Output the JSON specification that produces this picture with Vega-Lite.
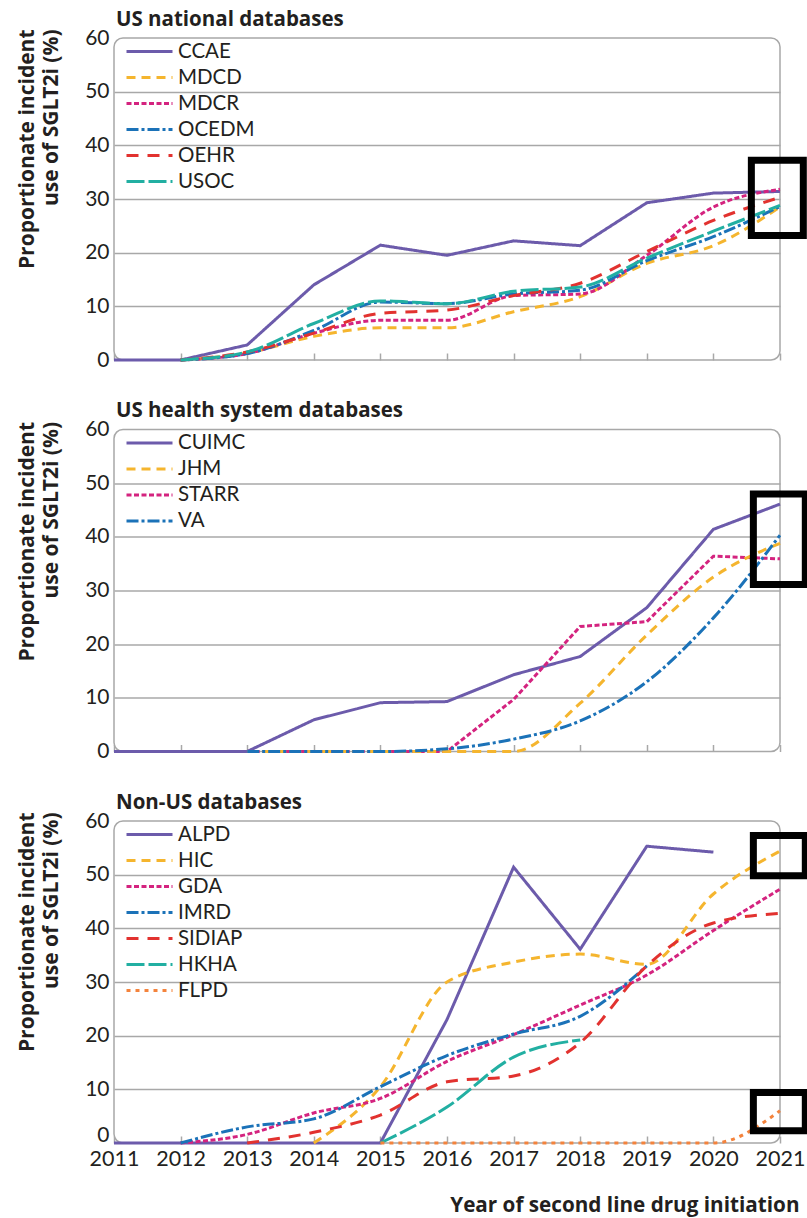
{
  "$schema": "https://vega.github.io/schema/vega-lite/v6.json",
  "autosize": {"type": "pad"},
  "padding": {"left": 15, "top": 8, "right": 0, "bottom": 2},
  "background": "white",
  "datasets": {
    "rates": [
      {"panel": "national", "series": "CCAE", "year": 2011, "value": 0},
      {"panel": "national", "series": "CCAE", "year": 2012, "value": 0},
      {"panel": "national", "series": "CCAE", "year": 2013, "value": 2.8},
      {"panel": "national", "series": "CCAE", "year": 2014, "value": 14},
      {"panel": "national", "series": "CCAE", "year": 2015, "value": 21.4},
      {"panel": "national", "series": "CCAE", "year": 2016, "value": 19.5},
      {"panel": "national", "series": "CCAE", "year": 2017, "value": 22.2},
      {"panel": "national", "series": "CCAE", "year": 2018, "value": 21.3},
      {"panel": "national", "series": "CCAE", "year": 2019, "value": 29.3},
      {"panel": "national", "series": "CCAE", "year": 2020, "value": 31.1},
      {"panel": "national", "series": "CCAE", "year": 2021, "value": 31.4},
      {"panel": "national", "series": "MDCD", "year": 2012, "value": 0},
      {"panel": "national", "series": "MDCD", "year": 2013, "value": 1.3},
      {"panel": "national", "series": "MDCD", "year": 2014, "value": 4.4},
      {"panel": "national", "series": "MDCD", "year": 2015, "value": 6},
      {"panel": "national", "series": "MDCD", "year": 2016, "value": 6},
      {"panel": "national", "series": "MDCD", "year": 2017, "value": 9},
      {"panel": "national", "series": "MDCD", "year": 2018, "value": 11.8},
      {"panel": "national", "series": "MDCD", "year": 2019, "value": 18},
      {"panel": "national", "series": "MDCD", "year": 2020, "value": 21.3},
      {"panel": "national", "series": "MDCD", "year": 2021, "value": 28.5},
      {"panel": "national", "series": "MDCR", "year": 2012, "value": 0},
      {"panel": "national", "series": "MDCR", "year": 2013, "value": 1.2},
      {"panel": "national", "series": "MDCR", "year": 2014, "value": 5},
      {"panel": "national", "series": "MDCR", "year": 2015, "value": 7.4},
      {"panel": "national", "series": "MDCR", "year": 2016, "value": 7.4},
      {"panel": "national", "series": "MDCR", "year": 2017, "value": 12},
      {"panel": "national", "series": "MDCR", "year": 2018, "value": 12.3},
      {"panel": "national", "series": "MDCR", "year": 2019, "value": 19.5},
      {"panel": "national", "series": "MDCR", "year": 2020, "value": 28.5},
      {"panel": "national", "series": "MDCR", "year": 2021, "value": 31.8},
      {"panel": "national", "series": "OCEDM", "year": 2012, "value": 0},
      {"panel": "national", "series": "OCEDM", "year": 2013, "value": 1.2},
      {"panel": "national", "series": "OCEDM", "year": 2014, "value": 5.5},
      {"panel": "national", "series": "OCEDM", "year": 2015, "value": 10.8},
      {"panel": "national", "series": "OCEDM", "year": 2016, "value": 10.5},
      {"panel": "national", "series": "OCEDM", "year": 2017, "value": 12.3},
      {"panel": "national", "series": "OCEDM", "year": 2018, "value": 13},
      {"panel": "national", "series": "OCEDM", "year": 2019, "value": 18.5},
      {"panel": "national", "series": "OCEDM", "year": 2020, "value": 23},
      {"panel": "national", "series": "OCEDM", "year": 2021, "value": 28.6},
      {"panel": "national", "series": "OEHR", "year": 2012, "value": 0},
      {"panel": "national", "series": "OEHR", "year": 2013, "value": 1.5},
      {"panel": "national", "series": "OEHR", "year": 2014, "value": 5},
      {"panel": "national", "series": "OEHR", "year": 2015, "value": 8.7},
      {"panel": "national", "series": "OEHR", "year": 2016, "value": 9.3},
      {"panel": "national", "series": "OEHR", "year": 2017, "value": 12},
      {"panel": "national", "series": "OEHR", "year": 2018, "value": 14.3},
      {"panel": "national", "series": "OEHR", "year": 2019, "value": 20.2},
      {"panel": "national", "series": "OEHR", "year": 2020, "value": 26},
      {"panel": "national", "series": "OEHR", "year": 2021, "value": 30.3},
      {"panel": "national", "series": "USOC", "year": 2012, "value": 0},
      {"panel": "national", "series": "USOC", "year": 2013, "value": 1.5},
      {"panel": "national", "series": "USOC", "year": 2014, "value": 6.8},
      {"panel": "national", "series": "USOC", "year": 2015, "value": 11},
      {"panel": "national", "series": "USOC", "year": 2016, "value": 10.5},
      {"panel": "national", "series": "USOC", "year": 2017, "value": 12.8},
      {"panel": "national", "series": "USOC", "year": 2018, "value": 13.6},
      {"panel": "national", "series": "USOC", "year": 2019, "value": 19},
      {"panel": "national", "series": "USOC", "year": 2020, "value": 24},
      {"panel": "national", "series": "USOC", "year": 2021, "value": 28.8},

      {"panel": "system", "series": "CUIMC", "year": 2011, "value": 0},
      {"panel": "system", "series": "CUIMC", "year": 2012, "value": 0},
      {"panel": "system", "series": "CUIMC", "year": 2013, "value": 0},
      {"panel": "system", "series": "CUIMC", "year": 2014, "value": 5.9},
      {"panel": "system", "series": "CUIMC", "year": 2015, "value": 9.1},
      {"panel": "system", "series": "CUIMC", "year": 2016, "value": 9.3},
      {"panel": "system", "series": "CUIMC", "year": 2017, "value": 14.3},
      {"panel": "system", "series": "CUIMC", "year": 2018, "value": 17.7},
      {"panel": "system", "series": "CUIMC", "year": 2019, "value": 26.8},
      {"panel": "system", "series": "CUIMC", "year": 2020, "value": 41.4},
      {"panel": "system", "series": "CUIMC", "year": 2021, "value": 46.1},
      {"panel": "system", "series": "JHM", "year": 2013, "value": 0},
      {"panel": "system", "series": "JHM", "year": 2014, "value": 0},
      {"panel": "system", "series": "JHM", "year": 2015, "value": 0},
      {"panel": "system", "series": "JHM", "year": 2016, "value": 0},
      {"panel": "system", "series": "JHM", "year": 2017, "value": 0},
      {"panel": "system", "series": "JHM", "year": 2018, "value": 9},
      {"panel": "system", "series": "JHM", "year": 2019, "value": 21.7},
      {"panel": "system", "series": "JHM", "year": 2020, "value": 32.5},
      {"panel": "system", "series": "JHM", "year": 2021, "value": 38.8},
      {"panel": "system", "series": "STARR", "year": 2013, "value": 0},
      {"panel": "system", "series": "STARR", "year": 2014, "value": 0},
      {"panel": "system", "series": "STARR", "year": 2015, "value": 0},
      {"panel": "system", "series": "STARR", "year": 2016, "value": 0},
      {"panel": "system", "series": "STARR", "year": 2017, "value": 9.7},
      {"panel": "system", "series": "STARR", "year": 2018, "value": 23.3},
      {"panel": "system", "series": "STARR", "year": 2019, "value": 24.2},
      {"panel": "system", "series": "STARR", "year": 2020, "value": 36.4},
      {"panel": "system", "series": "STARR", "year": 2021, "value": 35.9},
      {"panel": "system", "series": "VA", "year": 2013, "value": 0},
      {"panel": "system", "series": "VA", "year": 2014, "value": 0},
      {"panel": "system", "series": "VA", "year": 2015, "value": 0},
      {"panel": "system", "series": "VA", "year": 2016, "value": 0.5},
      {"panel": "system", "series": "VA", "year": 2017, "value": 2.3},
      {"panel": "system", "series": "VA", "year": 2018, "value": 5.7},
      {"panel": "system", "series": "VA", "year": 2019, "value": 13},
      {"panel": "system", "series": "VA", "year": 2020, "value": 24.9},
      {"panel": "system", "series": "VA", "year": 2021, "value": 40.3},

      {"panel": "nonus", "series": "ALPD", "year": 2011, "value": 0},
      {"panel": "nonus", "series": "ALPD", "year": 2012, "value": 0},
      {"panel": "nonus", "series": "ALPD", "year": 2013, "value": 0},
      {"panel": "nonus", "series": "ALPD", "year": 2014, "value": 0},
      {"panel": "nonus", "series": "ALPD", "year": 2015, "value": 0},
      {"panel": "nonus", "series": "ALPD", "year": 2016, "value": 23},
      {"panel": "nonus", "series": "ALPD", "year": 2017, "value": 51.4},
      {"panel": "nonus", "series": "ALPD", "year": 2018, "value": 36.1},
      {"panel": "nonus", "series": "ALPD", "year": 2019, "value": 55.3},
      {"panel": "nonus", "series": "ALPD", "year": 2020, "value": 54.2},
      {"panel": "nonus", "series": "HIC", "year": 2014, "value": 0},
      {"panel": "nonus", "series": "HIC", "year": 2015, "value": 10.5},
      {"panel": "nonus", "series": "HIC", "year": 2016, "value": 30},
      {"panel": "nonus", "series": "HIC", "year": 2017, "value": 33.7},
      {"panel": "nonus", "series": "HIC", "year": 2018, "value": 35.2},
      {"panel": "nonus", "series": "HIC", "year": 2019, "value": 33.3},
      {"panel": "nonus", "series": "HIC", "year": 2020, "value": 46.4},
      {"panel": "nonus", "series": "HIC", "year": 2021, "value": 54.4},
      {"panel": "nonus", "series": "GDA", "year": 2012, "value": 0},
      {"panel": "nonus", "series": "GDA", "year": 2013, "value": 1.6},
      {"panel": "nonus", "series": "GDA", "year": 2014, "value": 5.6},
      {"panel": "nonus", "series": "GDA", "year": 2015, "value": 8.3},
      {"panel": "nonus", "series": "GDA", "year": 2016, "value": 15.2},
      {"panel": "nonus", "series": "GDA", "year": 2017, "value": 20.2},
      {"panel": "nonus", "series": "GDA", "year": 2018, "value": 25.7},
      {"panel": "nonus", "series": "GDA", "year": 2019, "value": 31.3},
      {"panel": "nonus", "series": "GDA", "year": 2020, "value": 39.6},
      {"panel": "nonus", "series": "GDA", "year": 2021, "value": 47.3},
      {"panel": "nonus", "series": "IMRD", "year": 2012, "value": 0},
      {"panel": "nonus", "series": "IMRD", "year": 2013, "value": 3},
      {"panel": "nonus", "series": "IMRD", "year": 2014, "value": 4.5},
      {"panel": "nonus", "series": "IMRD", "year": 2015, "value": 10.5},
      {"panel": "nonus", "series": "IMRD", "year": 2016, "value": 16.3},
      {"panel": "nonus", "series": "IMRD", "year": 2017, "value": 20.3},
      {"panel": "nonus", "series": "IMRD", "year": 2018, "value": 23.6},
      {"panel": "nonus", "series": "IMRD", "year": 2019, "value": 33},
      {"panel": "nonus", "series": "SIDIAP", "year": 2013, "value": 0},
      {"panel": "nonus", "series": "SIDIAP", "year": 2014, "value": 2},
      {"panel": "nonus", "series": "SIDIAP", "year": 2015, "value": 5.2},
      {"panel": "nonus", "series": "SIDIAP", "year": 2016, "value": 11.4},
      {"panel": "nonus", "series": "SIDIAP", "year": 2017, "value": 12.5},
      {"panel": "nonus", "series": "SIDIAP", "year": 2018, "value": 18.7},
      {"panel": "nonus", "series": "SIDIAP", "year": 2019, "value": 33},
      {"panel": "nonus", "series": "SIDIAP", "year": 2020, "value": 41},
      {"panel": "nonus", "series": "SIDIAP", "year": 2021, "value": 42.8},
      {"panel": "nonus", "series": "HKHA", "year": 2015, "value": 0},
      {"panel": "nonus", "series": "HKHA", "year": 2016, "value": 6.7},
      {"panel": "nonus", "series": "HKHA", "year": 2017, "value": 16},
      {"panel": "nonus", "series": "HKHA", "year": 2018, "value": 19.2},
      {"panel": "nonus", "series": "FLPD", "year": 2015, "value": 0},
      {"panel": "nonus", "series": "FLPD", "year": 2016, "value": 0},
      {"panel": "nonus", "series": "FLPD", "year": 2017, "value": 0},
      {"panel": "nonus", "series": "FLPD", "year": 2018, "value": 0},
      {"panel": "nonus", "series": "FLPD", "year": 2019, "value": 0},
      {"panel": "nonus", "series": "FLPD", "year": 2020, "value": 0},
      {"panel": "nonus", "series": "FLPD", "year": 2021, "value": 6}
    ],
    "highlights": [
      {"panel": "national", "x0": 2020.57, "x1": 2021.35, "y0": 23.2, "y1": 37.2},
      {"panel": "system", "x0": 2020.6, "x1": 2021.38, "y0": 31.1, "y1": 48},
      {"panel": "nonus", "x0": 2020.6, "x1": 2021.38, "y0": 49.8, "y1": 57.3},
      {"panel": "nonus", "x0": 2020.6, "x1": 2021.38, "y0": 2.3, "y1": 9.4}
    ]
  },
  "vconcat": [
    {
      "title": {"text": "US national databases"},
      "width": 666,
      "height": 322,
      "layer": [
        {
          "data": {"name": "rates"},
          "transform": [{"filter": "datum.panel === 'national' && datum.series === 'CCAE'"}],
          "mark": {"type": "line", "strokeWidth": 3},
          "encoding": {
            "x": {"field": "year", "type": "quantitative", "scale": {"domain": [2011, 2021], "nice": false, "zero": false}, "axis": {"values": [2011, 2012, 2013, 2014, 2015, 2016, 2017, 2018, 2019, 2020, 2021], "labels": false, "title": null}},
            "y": {"field": "value", "type": "quantitative", "scale": {"domain": [0, 60], "nice": false}, "axis": {"values": [0, 10, 20, 30, 40, 50, 60], "title": ["Proportionate incident", "use of SGLT2i (%)"], "titleY": -9}},
            "color": {"field": "series", "type": "nominal", "scale": {"domain": ["CCAE", "MDCD", "MDCR", "OCEDM", "OEHR", "USOC"], "range": ["#6C5BAB", "#F5B52E", "#D4237F", "#1B72B8", "#E2322F", "#22AFA2"]}, "legend": {"orient": "none", "legendX": 24, "legendY": 2}},
            "strokeDash": {"field": "series", "type": "nominal", "scale": {"domain": ["CCAE", "MDCD", "MDCR", "OCEDM", "OEHR", "USOC"], "range": [[1, 0], [9, 6], [5, 2.5], [12, 3, 3, 3], [12, 9], [18, 4]]}, "legend": {"orient": "none", "legendX": 24, "legendY": 2}}
          }
        },
        {
          "data": {"name": "rates"},
          "transform": [{"filter": "datum.panel === 'national' && datum.series !== 'CCAE'"}],
          "mark": {"type": "line", "strokeWidth": 3, "interpolate": "monotone"},
          "encoding": {
            "x": {"field": "year", "type": "quantitative"},
            "y": {"field": "value", "type": "quantitative"},
            "color": {"field": "series", "type": "nominal"},
            "strokeDash": {"field": "series", "type": "nominal"}
          }
        },
        {
          "data": {"name": "highlights"},
          "transform": [{"filter": "datum.panel === 'national'"}],
          "mark": {"type": "rect", "filled": false, "stroke": "#000000", "strokeWidth": 7, "clip": false},
          "encoding": {
            "x": {"field": "x0", "type": "quantitative"},
            "x2": {"field": "x1"},
            "y": {"field": "y0", "type": "quantitative"},
            "y2": {"field": "y1"}
          }
        }
      ]
    },
    {
      "title": {"text": "US health system databases"},
      "width": 666,
      "height": 322,
      "layer": [
        {
          "data": {"name": "rates"},
          "transform": [{"filter": "datum.panel === 'system' && (datum.series === 'CUIMC' || datum.series === 'STARR')"}],
          "mark": {"type": "line", "strokeWidth": 3},
          "encoding": {
            "x": {"field": "year", "type": "quantitative", "scale": {"domain": [2011, 2021], "nice": false, "zero": false}, "axis": {"values": [2011, 2012, 2013, 2014, 2015, 2016, 2017, 2018, 2019, 2020, 2021], "labels": false, "title": null}},
            "y": {"field": "value", "type": "quantitative", "scale": {"domain": [0, 60], "nice": false}, "axis": {"values": [0, 10, 20, 30, 40, 50, 60], "title": ["Proportionate incident", "use of SGLT2i (%)"], "titleY": -8}},
            "color": {"field": "series", "type": "nominal", "scale": {"domain": ["CUIMC", "JHM", "STARR", "VA"], "range": ["#6C5BAB", "#F5B52E", "#D4237F", "#1B72B8"]}, "legend": {"orient": "none", "legendX": 24, "legendY": 2}},
            "strokeDash": {"field": "series", "type": "nominal", "scale": {"domain": ["CUIMC", "JHM", "STARR", "VA"], "range": [[1, 0], [9, 6], [5, 2.5], [12, 3, 3, 3]]}, "legend": {"orient": "none", "legendX": 24, "legendY": 2}}
          }
        },
        {
          "data": {"name": "rates"},
          "transform": [{"filter": "datum.panel === 'system' && (datum.series === 'JHM' || datum.series === 'VA')"}],
          "mark": {"type": "line", "strokeWidth": 3, "interpolate": "monotone"},
          "encoding": {
            "x": {"field": "year", "type": "quantitative"},
            "y": {"field": "value", "type": "quantitative"},
            "color": {"field": "series", "type": "nominal"},
            "strokeDash": {"field": "series", "type": "nominal"}
          }
        },
        {
          "data": {"name": "highlights"},
          "transform": [{"filter": "datum.panel === 'system'"}],
          "mark": {"type": "rect", "filled": false, "stroke": "#000000", "strokeWidth": 7, "clip": false},
          "encoding": {
            "x": {"field": "x0", "type": "quantitative"},
            "x2": {"field": "x1"},
            "y": {"field": "y0", "type": "quantitative"},
            "y2": {"field": "y1"}
          }
        }
      ]
    },
    {
      "title": {"text": "Non-US databases"},
      "width": 666,
      "height": 322,
      "layer": [
        {
          "data": {"name": "rates"},
          "transform": [{"filter": "datum.panel === 'nonus' && datum.series === 'ALPD'"}],
          "mark": {"type": "line", "strokeWidth": 3},
          "encoding": {
            "x": {"field": "year", "type": "quantitative", "scale": {"domain": [2011, 2021], "nice": false, "zero": false}, "axis": {"values": [2011, 2012, 2013, 2014, 2015, 2016, 2017, 2018, 2019, 2020, 2021], "format": "d", "labelFontSize": 21.5, "labelPadding": 12, "labelOverlap": false, "labelFlush": false, "title": "Year of second line drug initiation", "titleFontSize": 20.7, "titleX": 685, "titleY": 68, "titleAlign": "right", "titleAnchor": null, "titleBaseline": "alphabetic"}},
            "y": {"field": "value", "type": "quantitative", "scale": {"domain": [0, 60], "nice": false}, "axis": {"values": [0, 10, 20, 30, 40, 50, 60], "labelOffset": {"condition": {"test": "datum.value === 0", "value": -8}, "value": 0}, "title": ["Proportionate incident", "use of SGLT2i (%)"], "titleY": -9}},
            "color": {"field": "series", "type": "nominal", "scale": {"domain": ["ALPD", "HIC", "GDA", "IMRD", "SIDIAP", "HKHA", "FLPD"], "range": ["#6C5BAB", "#F5B52E", "#D4237F", "#1B72B8", "#E2322F", "#22AFA2", "#F4833C"]}, "legend": {"orient": "none", "legendX": 24, "legendY": 2}},
            "strokeDash": {"field": "series", "type": "nominal", "scale": {"domain": ["ALPD", "HIC", "GDA", "IMRD", "SIDIAP", "HKHA", "FLPD"], "range": [[1, 0], [9, 6], [5, 2.5], [12, 3, 3, 3], [12, 9], [18, 4], [4, 5]]}, "legend": {"orient": "none", "legendX": 24, "legendY": 2}}
          }
        },
        {
          "data": {"name": "rates"},
          "transform": [{"filter": "datum.panel === 'nonus' && datum.series !== 'ALPD'"}],
          "mark": {"type": "line", "strokeWidth": 3, "interpolate": "monotone"},
          "encoding": {
            "x": {"field": "year", "type": "quantitative"},
            "y": {"field": "value", "type": "quantitative"},
            "color": {"field": "series", "type": "nominal"},
            "strokeDash": {"field": "series", "type": "nominal"}
          }
        },
        {
          "data": {"name": "highlights"},
          "transform": [{"filter": "datum.panel === 'nonus'"}],
          "mark": {"type": "rect", "filled": false, "stroke": "#000000", "strokeWidth": 7, "clip": false},
          "encoding": {
            "x": {"field": "x0", "type": "quantitative"},
            "x2": {"field": "x1"},
            "y": {"field": "y0", "type": "quantitative"},
            "y2": {"field": "y1"}
          }
        }
      ]
    }
  ],
  "spacing": 69.5,
  "bounds": "flush",
  "resolve": {
    "scale": {"color": "independent", "strokeDash": "independent"},
    "legend": {"color": "independent", "strokeDash": "independent"}
  },
  "config": {
    "font": "Lato",
    "view": {"stroke": "#a8a8a8", "strokeWidth": 1.5, "cornerRadius": 9},
    "title": {"anchor": "start", "frame": "group", "font": "Open Sans", "fontSize": 20.5, "fontWeight": "bold", "color": "#231f20", "baseline": "alphabetic", "offset": -3, "dx": 2},
    "axis": {
      "labelFont": "Lato",
      "labelColor": "#231f20",
      "labelFontSize": 21,
      "titleFont": "Open Sans",
      "titleFontSize": 19.5,
      "titleFontWeight": "bold",
      "titleColor": "#231f20",
      "domain": false
    },
    "axisX": {"grid": false, "ticks": true, "tickSize": -7, "tickColor": "#a8a8a8", "tickWidth": 1.5},
    "axisY": {
      "ticks": false,
      "labelPadding": 5,
      "grid": true,
      "gridColor": "#a8a8a8",
      "gridWidth": 1.5,
      "gridOpacity": {"condition": {"test": "datum.value === 0 || datum.value === 60", "value": 0}, "value": 1},
      "titleAngle": -90,
      "titleAlign": "right",
      "titleBaseline": "top",
      "titleX": -98,
      "titleFontSize": 21,
      "titleLineHeight": 24
    },
    "legend": {
      "title": null,
      "symbolType": "M-2.3,0H2.3",
      "symbolSize": 400,
      "symbolStrokeWidth": 3,
      "labelFont": "Lato",
      "labelFontSize": 20.5,
      "labelColor": "#231f20",
      "labelOffset": 17,
      "rowPadding": 4,
      "padding": 0
    }
  }
}
